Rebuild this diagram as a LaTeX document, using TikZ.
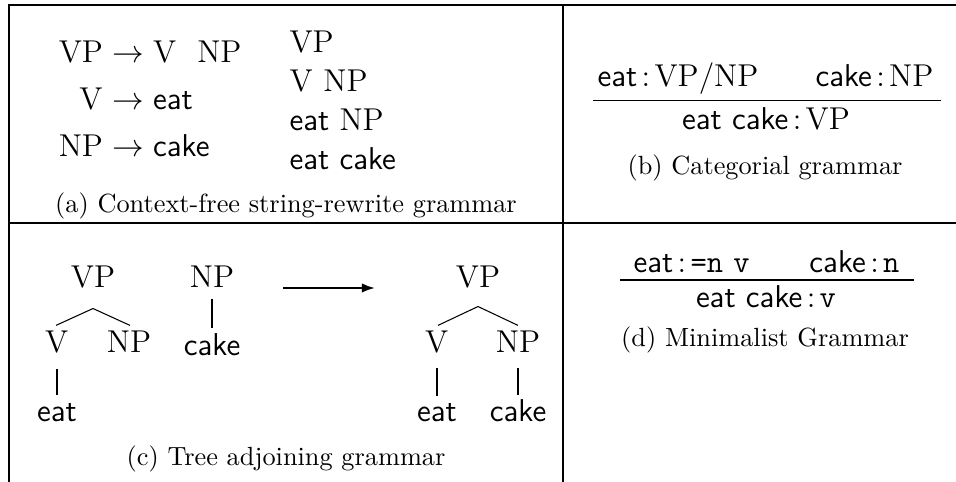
\documentclass[tikz,border=0pt]{standalone}
\usetikzlibrary{arrows.meta,calc}
\newcommand{\tcol}{\mskip2.5mu{:}\mskip2.5mu}
\begin{document}
\begin{tikzpicture}[x=0.3802pt,y=-0.3802pt,
  txt/.style={inner sep=0pt,font=\fontsize{12}{14.4}\selectfont},
  captxt/.style={inner sep=0pt,font=\fontsize{10}{12}\selectfont},
  frame/.style={line width=0.5pt},
  branch/.style={line width=0.4pt},
  fracbar/.style={line width=0.5pt},
  bigarrow/.style={line width=0.8pt,-{Latex[length=5pt,width=3.6pt]}}]
\useasboundingbox (0,0) rectangle (956,482);
% table frame
\coordinate (tl) at (9,5);
\coordinate (tr) at (956,5);
\coordinate (bl) at (9,482);
\coordinate (ml) at (9,223);
\coordinate (mr) at (956,223);
\coordinate (tm) at (563,5);
\coordinate (bm) at (563,482);
\draw[frame] (tr) -- (tl) -- (bl);
\draw[frame] (ml) -- (mr);
\draw[frame] (tm) -- (bm);

% (a) rules
\node[txt,anchor=base east] (al1) at (103.5,63) {$\mathrm{VP}$};
\node[txt,anchor=base west] (ar1) at (al1.base east) {${}\rightarrow\mathrm{V}\ \ \mathrm{NP}$};
\node[txt,anchor=base east] (al2) at (103.5,110) {$\mathrm{V}$};
\node[txt,anchor=base west] (ar2) at (al2.base east) {${}\rightarrow\textsf{eat}$};
\node[txt,anchor=base east] (al3) at (103.5,157) {$\mathrm{NP}$};
\node[txt,anchor=base west] (ar3) at (al3.base east) {${}\rightarrow\textsf{cake}$};
% (a) derivation
\node[txt,anchor=base west] (ad1) at (289,53) {$\mathrm{VP}$};
\node[txt,anchor=base west] (ad2) at (289,92) {$\mathrm{V}\ \mathrm{NP}$};
\node[txt,anchor=base west] (ad3) at (289,131) {\textsf{eat} $\mathrm{NP}$};
\node[txt,anchor=base west] (ad4) at (289,170) {\textsf{eat cake}};
\node[captxt,anchor=base] (capa) at (286,213) {(a) Context-free string-rewrite grammar};

% (b) categorial grammar
\node[txt,anchor=base west] (bn1) at (597,87) {$\textsf{eat}\tcol\mathrm{VP}/\mathrm{NP}$};
\node[txt,anchor=base east] (bn2) at (934,87) {$\textsf{cake}\tcol\mathrm{NP}$};
\coordinate (bb1) at (593,100.5);
\coordinate (bb2) at (941,100.5);
\draw[fracbar] (bb1) -- (bb2);
\node[txt,anchor=base] (bd) at (766,130) {$\textsf{eat cake}\tcol\mathrm{VP}$};
\node[captxt,anchor=base] (capb) at (765,175) {(b) Categorial grammar};

% (c) tree adjoining grammar
\node[txt,anchor=base] (tvp) at (93,288) {$\mathrm{VP}$};
\node[txt,anchor=base] (tv) at (57,353) {$\mathrm{V}$};
\node[txt,anchor=base] (tnp) at (129,353) {$\mathrm{NP}$};
\node[txt,anchor=base] (teat) at (57,422) {\textsf{eat}};
\draw[branch] ($(tvp.south)+(0,20)$) -- ($(tv.north)+(-1,-5.5)$);
\draw[branch] ($(tvp.south)+(0,20)$) -- ($(tnp.north)+(1,-5.5)$);
\draw[branch] ($(tv.south)+(0,15)$) -- ($(teat.north)+(0,-8)$);

\node[txt,anchor=base] (inp) at (212,288) {$\mathrm{NP}$};
\node[txt,anchor=base] (icake) at (212,356) {\textsf{cake}};
\draw[branch] ($(inp.south)+(0,10)$) -- ($(icake.north)+(0,-6)$);

\coordinate (arrS) at (283,288);
\coordinate (arrE) at (375,288);
\draw[bigarrow] (arrS) -- (arrE);

\node[txt,anchor=base] (rvp) at (478,288) {$\mathrm{VP}$};
\node[txt,anchor=base] (rv) at (437,353) {$\mathrm{V}$};
\node[txt,anchor=base] (rnp) at (518,353) {$\mathrm{NP}$};
\node[txt,anchor=base] (reat) at (437,422) {\textsf{eat}};
\node[txt,anchor=base] (rcake) at (518,422) {\textsf{cake}};
\draw[branch] ($(rvp.south)+(0,18)$) -- ($(rv.north)+(1,-5.5)$);
\draw[branch] ($(rvp.south)+(0,18)$) -- ($(rnp.north)+(0,-5.5)$);
\draw[branch] ($(rv.south)+(0,14)$) -- ($(reat.north)+(0,-7)$);
\draw[branch] ($(rnp.south)+(0,14)$) -- ($(rcake.north)+(0,-5)$);
\node[captxt,anchor=base] (capc) at (286,466) {(c) Tree adjoining grammar};

% (d) minimalist grammar
\node[txt,anchor=base west] (dn1) at (633,273) {$\textsf{eat}\tcol\texttt{=n}\ \texttt{v}$};
\node[txt,anchor=base east] (dn2) at (900,273) {$\textsf{cake}\tcol\texttt{n}$};
\coordinate (db1) at (620,280);
\coordinate (db2) at (914,280);
\draw[fracbar] (db1) -- (db2);
\node[txt,anchor=base] (dd) at (766,308) {$\textsf{eat cake}\tcol\texttt{v}$};
\node[captxt,anchor=base] (capd) at (765,347) {(d) Minimalist Grammar};
\end{tikzpicture}
\end{document}
